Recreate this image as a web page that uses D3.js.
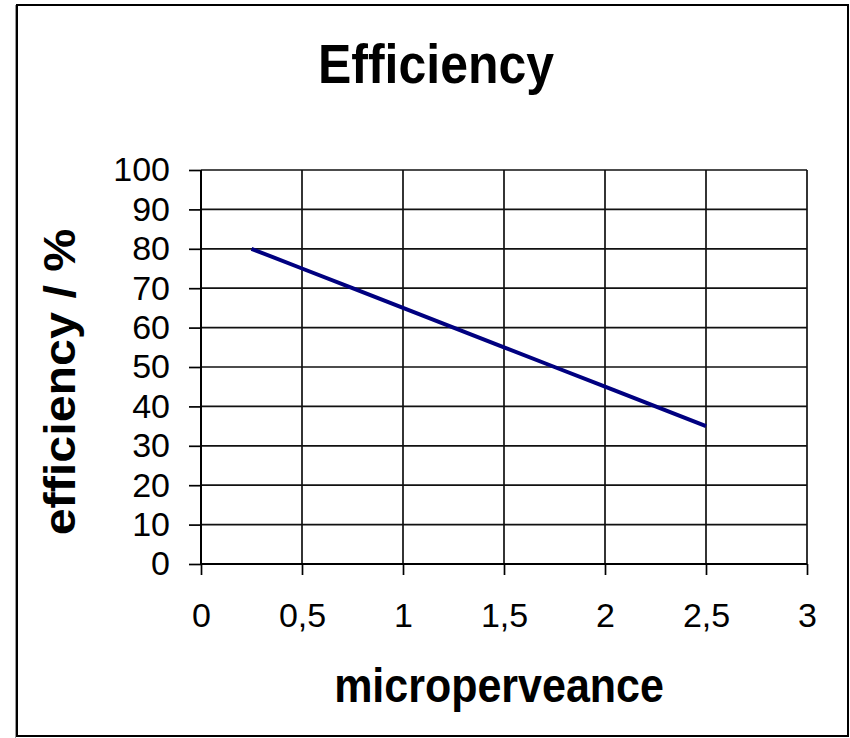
<!DOCTYPE html>
<html>
<head>
<meta charset="utf-8">
<script src="https://cdn.jsdelivr.net/npm/d3@7"></script>
<style>
  body { margin: 0; background: #fff; }
  text { font-family: Arial, "Liberation Sans", sans-serif; fill: #000; }
</style>
</head>
<body>
<svg id="chart" width="850" height="738"></svg>
<script>
// data
const microperveance = [0.25, 0.5, 0.75, 1, 1.25, 1.5, 1.75, 2, 2.25, 2.5];
const efficiency = [80, 75, 70, 65, 60, 55, 50, 45, 40, 35];
const xTicks = [0, 0.5, 1, 1.5, 2, 2.5, 3];
const yTicks = [0, 10, 20, 30, 40, 50, 60, 70, 80, 90, 100];

const svg = d3.select("#chart");

// frame round the whole chart (slight grey shadow on the left like the original)
svg.append("line")
  .attr("x1", 15.5).attr("x2", 15.5).attr("y1", 5).attr("y2", 738)
  .attr("stroke", "#999").attr("stroke-width", 1);
svg.append("rect")
  .attr("x", 17).attr("y", 5)
  .attr("width", 831).attr("height", 731)
  .attr("fill", "none")
  .attr("stroke", "#000")
  .attr("stroke-width", 2);

const x = d3.scaleLinear().domain([0, 3]).range([201, 807]);
const y = d3.scaleLinear().domain([0, 100]).range([564, 170]);

// grid
svg.append("g")
  .selectAll("line")
  .data(xTicks.slice(1))
  .join("line")
  .attr("x1", d => x(d)).attr("x2", d => x(d))
  .attr("y1", y(0)).attr("y2", y(100))
  .attr("stroke", "#111").attr("stroke-width", 1.7);

svg.append("g")
  .selectAll("line")
  .data(yTicks.slice(1))
  .join("line")
  .attr("x1", x(0)).attr("x2", x(3))
  .attr("y1", d => y(d)).attr("y2", d => y(d))
  .attr("stroke", "#111").attr("stroke-width", 1.7);

// axes
const xAxis = d3.axisBottom(x)
  .tickValues(xTicks)
  .tickSize(11)
  .tickPadding(28)
  .tickFormat(d => String(d).replace(".", ","));
svg.append("g")
  .attr("transform", `translate(0,${y(0)})`)
  .call(xAxis)
  .call(g => g.select(".domain").remove())
  .call(g => g.selectAll(".tick line").attr("stroke", "#000").attr("stroke-width", 1.7))
  .call(g => g.selectAll(".tick text").style("font-size", "34px").attr("fill", "#000"));

svg.append("line")
  .attr("x1", x(0)).attr("x2", x(3))
  .attr("y1", y(0)).attr("y2", y(0))
  .attr("stroke", "#000").attr("stroke-width", 2);

const yAxis = d3.axisLeft(y)
  .tickValues(yTicks)
  .tickSize(12)
  .tickPadding(19);
svg.append("g")
  .attr("transform", `translate(${x(0)},0)`)
  .call(yAxis)
  .call(g => g.select(".domain").remove())
  .call(g => g.selectAll(".tick line").attr("stroke", "#000").attr("stroke-width", 1.7))
  .call(g => g.selectAll(".tick text").style("font-size", "34px").attr("fill", "#000"));

svg.append("line")
  .attr("x1", x(0)).attr("x2", x(0))
  .attr("y1", y(0)).attr("y2", y(100))
  .attr("stroke", "#000").attr("stroke-width", 2);

// series
const line = d3.line()
  .x((d, i) => x(microperveance[i]))
  .y(d => y(d));
svg.append("path")
  .datum(efficiency)
  .attr("d", line)
  .attr("fill", "none")
  .attr("stroke", "#000080")
  .attr("stroke-width", 4);

// titles - original text is a bit stretched vertically
svg.append("text")
  .attr("transform", "translate(436,83) scale(1,1.12)")
  .attr("text-anchor", "middle")
  .style("font-size", "50px").style("font-weight", "bold")
  .text("Efficiency");

svg.append("text")
  .attr("transform", "translate(499,702) scale(1,1.1)")
  .attr("text-anchor", "middle")
  .style("font-size", "43px").style("font-weight", "bold")
  .text("microperveance");

svg.append("text")
  .attr("transform", "translate(75,382) scale(1,1.1) rotate(-90)")
  .attr("text-anchor", "middle")
  .style("font-size", "44px").style("font-weight", "bold")
  .text("efficiency / %");
</script>
</body>
</html>
